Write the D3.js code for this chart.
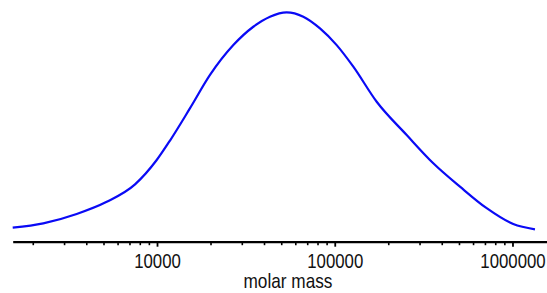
<!DOCTYPE html>
<html>
<head>
<meta charset="utf-8">
<script src="https://cdn.jsdelivr.net/npm/d3@7"></script>
<style>
  body { margin: 0; background: #fff; }
  svg { display: block; }
</style>
</head>
<body>
<div id="chart_div"></div>
<script>
// molar mass (x) and relative amount (y)
var molarMass = [1542, 2291, 3533, 5212, 7522, 9960, 11835, 15340, 19870, 26880, 34820, 43220,
                 53650, 66550, 82610, 102560, 127200, 172200, 254000, 358400, 506500, 715900, 1010000, 1338000];
var amount = [0.061, 0.080, 0.121, 0.174, 0.250, 0.356, 0.441, 0.582, 0.727, 0.857, 0.937, 0.981,
              1.0, 0.981, 0.930, 0.857, 0.763, 0.610, 0.465, 0.342, 0.240, 0.146, 0.077, 0.054];

var majorTicks = [10000, 100000, 1000000];
var xDomain = [1542, 1564000];
var xLabel = "molar mass";

var width = 547, height = 293;

var svg = d3.select("#chart_div")
  .append("svg")
    .attr("width", width)
    .attr("height", height);

var xScale = d3.scaleLog()
  .domain(xDomain)
  .range([12.7, 547]);

var yScale = d3.scaleLinear()
  .domain([0, 1])
  .range([241.7, 12.3]);

var axisY = 241.7;

// minor ticks
var minorTicks = xScale.ticks().filter(function(t) { return majorTicks.indexOf(t) < 0; });
var minorAxis = svg.append("g")
  .attr("transform", "translate(0," + axisY + ")")
  .call(d3.axisBottom(xScale).tickValues(minorTicks).tickSize(3.5).tickSizeOuter(0).tickFormat(""));
minorAxis.select(".domain").remove();
minorAxis.selectAll(".tick line").attr("stroke", "#000").attr("stroke-width", 1.6);

// major ticks + labels
var majorAxis = svg.append("g")
  .attr("transform", "translate(0," + axisY + ")")
  .call(d3.axisBottom(xScale).tickValues(majorTicks).tickSize(5).tickSizeOuter(0).tickFormat(d3.format("d")));
majorAxis.select(".domain").attr("stroke", "#000").attr("stroke-width", 2.2);
majorAxis.selectAll(".tick line").attr("stroke", "#000").attr("stroke-width", 1.8);
majorAxis.selectAll(".tick text")
  .attr("fill", "#111")
  .attr("y", 26.5)
  .attr("dy", 0)
  .attr("transform", "scale(0.8,1)")
  .style("font-family", "'Liberation Sans', Arial, sans-serif")
  .style("font-size", "21px");

svg.append("text")
  .attr("transform", "translate(288,288) scale(0.82,1)")
  .attr("text-anchor", "middle")
  .attr("fill", "#111")
  .style("font-family", "'Liberation Sans', Arial, sans-serif")
  .style("font-size", "21px")
  .text(xLabel);

var points = molarMass.map(function(m, i) { return {m: m, v: amount[i]}; });

svg.append("path")
  .datum(points)
  .attr("fill", "none")
  .attr("stroke", "#0a0af5")
  .attr("stroke-width", 2.2)
  .attr("d", d3.line()
    .x(function(d) { return xScale(d.m); })
    .y(function(d) { return yScale(d.v); })
    .curve(d3.curveMonotoneX)
  );
</script>
</body>
</html>
